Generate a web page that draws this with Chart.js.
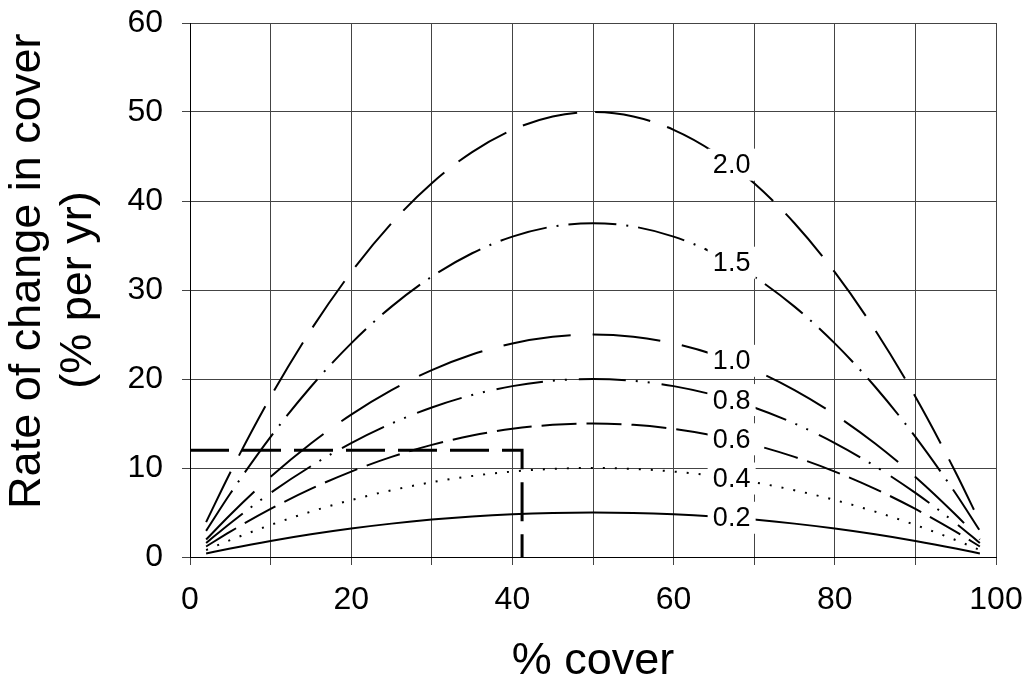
<!DOCTYPE html>
<html lang="en">
<head>
    <meta charset="UTF-8">
    <title>Rate of change in cover</title>
    <style>
        body {
            margin: 0;
            padding: 0;
            background: #fff;
        }

        #wrap {
            width: 1034px;
            height: 684px;
        }
    </style>
    <script src="https://cdn.jsdelivr.net/npm/chart.js"></script>
</head>
<body>
    <div id="wrap">
        <canvas id="coverChart" width="1034" height="684"></canvas>
    </div>

    <script>
        // % cover values where the curves were read
        const cover = [2, 5, 10, 15, 20, 25, 30, 35, 40, 45, 50, 55, 60, 65, 70, 75, 80, 85, 90, 95, 98];

        // rate of change in cover (% per yr), one array per curve
        const rate02 = [0.39, 0.95, 1.8, 2.55, 3.2, 3.75, 4.2, 4.55, 4.8, 4.95, 5, 4.95, 4.8, 4.55, 4.2, 3.75, 3.2, 2.55, 1.8, 0.95, 0.39];
        const rate04 = [0.78, 1.9, 3.6, 5.1, 6.4, 7.5, 8.4, 9.1, 9.6, 9.9, 10, 9.9, 9.6, 9.1, 8.4, 7.5, 6.4, 5.1, 3.6, 1.9, 0.78];
        const rate06 = [1.18, 2.85, 5.4, 7.65, 9.6, 11.25, 12.6, 13.65, 14.4, 14.85, 15, 14.85, 14.4, 13.65, 12.6, 11.25, 9.6, 7.65, 5.4, 2.85, 1.18];
        const rate08 = [1.57, 3.8, 7.2, 10.2, 12.8, 15, 16.8, 18.2, 19.2, 19.8, 20, 19.8, 19.2, 18.2, 16.8, 15, 12.8, 10.2, 7.2, 3.8, 1.57];
        const rate10 = [1.96, 4.75, 9, 12.75, 16, 18.75, 21, 22.75, 24, 24.75, 25, 24.75, 24, 22.75, 21, 18.75, 16, 12.75, 9, 4.75, 1.96];
        const rate15 = [2.94, 7.13, 13.5, 19.13, 24, 28.13, 31.5, 34.13, 36, 37.13, 37.5, 37.13, 36, 34.13, 31.5, 28.13, 24, 19.13, 13.5, 7.13, 2.94];
        const rate20 = [3.92, 9.5, 18, 25.5, 32, 37.5, 42, 45.5, 48, 49.5, 50, 49.5, 48, 45.5, 42, 37.5, 32, 25.5, 18, 9.5, 3.92];

        const curveNames = ['0.2', '0.4', '0.6', '0.8', '1.0', '1.5', '2.0'];
        const curveValues = [rate02, rate04, rate06, rate08, rate10, rate15, rate20];

        // the dashed guide at 12 % per yr
        const guideX = [0, 41.2, 41.2];
        const guideY = [12, 12, 0];

        const yTicks = [0, 10, 20, 30, 40, 50, 60];
        const xTickLabels = [0, 20, 40, 60, 80, 100];

        const FONT = '"Liberation Sans", Arial, Helvetica, sans-serif';
        const labelAtX = 67.2;

        const dashes = {
            '0.2': [],
            '0.4': [2, 10],
            '0.6': [35, 10],
            '0.8': [47, 10, 2, 10, 2, 12],
            '1.0': [68, 22],
            '1.5': [48, 10, 2, 10],
            '2.0': [56, 18]
        };

        const datasets = curveValues.map((vals, i) => ({
            label: curveNames[i],
            data: cover.map((c, j) => ({ x: c, y: vals[j] })),
            borderColor: '#000',
            borderWidth: 2,
            borderDash: dashes[curveNames[i]],
            pointRadius: 0,
            fill: false,
            cubicInterpolationMode: 'monotone'
        }));

        datasets.push({
            label: 'guide',
            data: guideX.map((x, j) => ({ x: x, y: guideY[j] })),
            borderColor: '#000',
            borderWidth: 3,
            borderDash: [39, 13],
            pointRadius: 0,
            fill: false,
            tension: 0
        });

        // curve names sit on the curves in white boxes
        const curveLabels = {
            id: 'curveLabels',
            afterDatasetsDraw(chart) {
                const ctx = chart.ctx;
                const px = chart.scales.x.getPixelForValue(labelAtX);
                ctx.save();
                ctx.font = '27px ' + FONT;
                ctx.textAlign = 'center';
                ctx.textBaseline = 'middle';
                curveNames.forEach((name, i) => {
                    const pt = chart.getDatasetMeta(i).dataset.interpolate({ x: px }, 'x');
                    if (!pt) return;
                    ctx.fillStyle = '#fff';
                    ctx.fillRect(pt.x - 24, pt.y - 16, 48, 32);
                    ctx.fillStyle = '#000';
                    ctx.fillText(name, pt.x, pt.y + 1);
                });
                ctx.restore();
            }
        };

        new Chart(document.getElementById('coverChart'), {
            type: 'line',
            data: { datasets: datasets },
            plugins: [curveLabels],
            options: {
                responsive: false,
                animation: false,
                devicePixelRatio: 1,
                layout: { padding: { top: 23, right: 38, left: 0, bottom: 0 } },
                plugins: {
                    legend: { display: false },
                    tooltip: { enabled: false }
                },
                scales: {
                    x: {
                        type: 'linear',
                        min: 0,
                        max: 100,
                        afterFit: (s) => {
                            s.height = 127;
                            s.paddingLeft = 0;
                            s.paddingRight = 0;
                        },
                        afterBuildTicks: (s) => {
                            s.ticks = [];
                            for (let v = 0; v <= 100; v += 10) s.ticks.push({ value: v });
                        },
                        ticks: {
                            color: '#000',
                            padding: 16,
                            maxRotation: 0,
                            font: { family: FONT, size: 32 },
                            callback: (v) => xTickLabels.includes(v) ? String(v) : ''
                        },
                        grid: { color: '#444', lineWidth: 1, tickLength: 8, tickColor: '#444' },
                        border: { color: '#000', width: 1 },
                        title: {
                            display: true,
                            text: '% cover',
                            color: '#000',
                            padding: 0,
                            font: { family: FONT, size: 45, lineHeight: 1 }
                        }
                    },
                    y: {
                        type: 'linear',
                        min: 0,
                        max: 60,
                        afterFit: (s) => {
                            s.width = 190;
                            s.paddingTop = 0;
                            s.paddingBottom = 0;
                        },
                        afterBuildTicks: (s) => {
                            s.ticks = yTicks.map(v => ({ value: v }));
                        },
                        ticks: {
                            color: '#000',
                            padding: 19,
                            font: { family: FONT, size: 32 }
                        },
                        grid: { color: '#444', lineWidth: 1, tickLength: 8, tickColor: '#444' },
                        border: { color: '#000', width: 1 },
                        title: {
                            display: true,
                            // first line sits a little above the middle in the original
                            text: ['\u00a0\u00a0\u00a0Rate of change in cover', '(% per yr)'],
                            color: '#000',
                            padding: { top: 2, bottom: 0 },
                            font: { family: FONT, size: 45, lineHeight: 1.14 }
                        }
                    }
                }
            }
        });
    </script>
</body>
</html>
